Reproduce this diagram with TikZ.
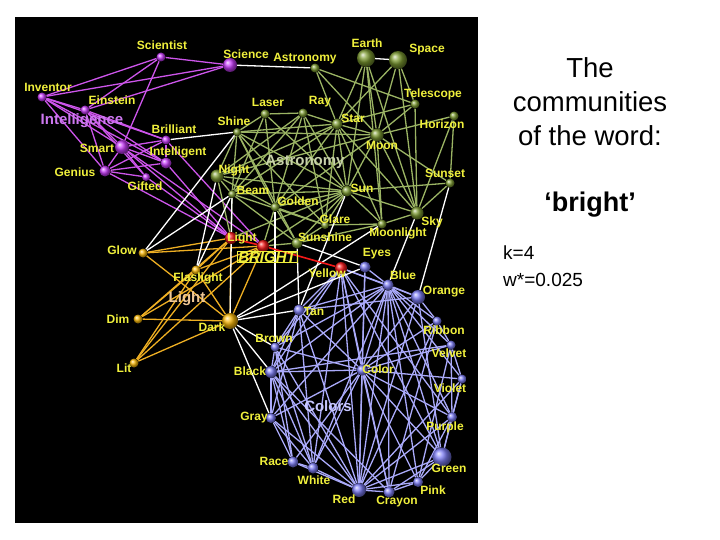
\documentclass[tikz,border=0pt]{standalone}
\usepackage{fontspec}
\setmainfont{Liberation Sans}
\pgfdeclarelayer{bg}\pgfdeclarelayer{edges}
\pgfsetlayers{bg,edges,main}
\definecolor{labY}{RGB}{240,240,60}
\definecolor{cPE}{RGB}{205,85,235}
\definecolor{cPN}{RGB}{200,60,250}
\definecolor{cGE}{RGB}{155,180,100}
\definecolor{cGN}{RGB}{125,155,50}
\definecolor{cOE}{RGB}{238,175,35}
\definecolor{cON}{RGB}{250,185,10}
\definecolor{cBE}{RGB}{170,170,250}
\definecolor{cBN}{RGB}{125,125,245}
\definecolor{cRN}{RGB}{245,25,25}
\newcommand\mkvtx[6]{\node[#1=#2] (#3) at (#4) {}; \node[lab] (l#3) at (#5) {#6};}
\begin{document}
\begin{tikzpicture}[x=1pt,y=-1pt,
  lab/.style={text=labY,font=\bfseries\fontsize{12}{12}\selectfont,inner sep=0pt},
  comm/.style={font=\bfseries\fontsize{15}{15}\selectfont,inner sep=0pt},
  sph/.style={circle,inner sep=0pt,minimum size=#1,shading=ball},
  pN/.style={sph=#1,ball color=cPN},
  gN/.style={sph=#1,ball color=cGN},
  oN/.style={sph=#1,ball color=cON},
  bN/.style={sph=#1,ball color=cBN},
  rN/.style={sph=#1,ball color=cRN},
  pE/.style={draw=cPE,line width=1.3pt},
  gE/.style={draw=cGE,line width=1.3pt},
  oE/.style={draw=cOE,line width=1.3pt},
  bE/.style={draw=cBE,line width=1.3pt},
  wE/.style={draw=white,line width=1.3pt},
  rE/.style={draw=cRN,line width=1.6pt}]
\useasboundingbox (0,0) rectangle (720,540);
\begin{pgfonlayer}{bg}
\fill[white] (0,0) rectangle (720,540);
\fill[black] (15,17) rectangle (478,523);
\end{pgfonlayer}
% purple
\mkvtx{pN}{9}{sci}{161,57}{162,45}{Scientist}
\mkvtx{pN}{14}{scn}{230,65}{246,54}{Science}
\mkvtx{pN}{9}{inv}{42,97}{48,87}{Inventor}
\mkvtx{pN}{9}{ein}{85,110}{112,100}{Einstein}
\mkvtx{pN}{9}{bri}{166,140}{174,129}{Brilliant}
\mkvtx{pN}{14}{sma}{122,147}{97,148}{Smart}
\mkvtx{pN}{11}{int}{166,163}{178,152}{Intelligent}
\mkvtx{pN}{11}{gen}{105,171}{75,172}{Genius}
\mkvtx{pN}{8}{gif}{146,177}{145,186}{Gifted}
% green
\mkvtx{gN}{18}{ear}{366,58}{367,43}{Earth}
\mkvtx{gN}{18}{spa}{398,60}{427,50}{Space}
\mkvtx{gN}{9}{ast}{315,68}{305,59}{Astronomy}
\mkvtx{gN}{9}{tel}{415,104}{433,94}{Telescope}
\mkvtx{gN}{9}{las}{265,114}{268,102}{Laser}
\mkvtx{gN}{9}{ray}{303,113}{320,102}{Ray}
\mkvtx{gN}{8}{shi}{237,132}{234,121}{Shine}
\mkvtx{gN}{11}{sta}{337,124}{353,118}{Star}
\mkvtx{gN}{9}{hor}{454,116}{442,124}{Horizon}
\mkvtx{gN}{13}{moo}{377,135}{382,145}{Moon}
\mkvtx{gN}{13}{nig}{217,176}{234,170}{Night}
\mkvtx{gN}{8}{bea}{232,194}{253,190}{Beam}
\mkvtx{gN}{9}{gol}{275,207}{298,201}{Golden}
\mkvtx{gN}{11}{sun}{347,191}{362,188}{Sun}
\mkvtx{gN}{9}{sus}{450,183}{445,173}{Sunset}
\mkvtx{gN}{8}{gla}{325,225}{335,219}{Glare}
\mkvtx{gN}{11}{ssh}{297,243}{325,237}{Sunshine}
\mkvtx{gN}{9}{mol}{382,224}{398,233}{Moonlight}
\mkvtx{gN}{13}{sky}{417,213}{432,222}{Sky}
% red
\node[rN=12] (lig) at (231,238) {};
\node[lab] (llig) at (242,238) {Light};
\node[rN=12] (brt) at (263,246) {};
\node[draw=labY,line width=0.8pt,inner xsep=1pt,inner ysep=0.5pt,minimum width=60pt,text=labY,font=\bfseries\itshape\fontsize{15}{15}\selectfont] (lbrt) at (267,257) {BRIGHT};
\mkvtx{rN}{12}{yel}{341,268}{327,273}{Yellow}
% orange
\mkvtx{oN}{9}{glo}{143,253}{122,250}{Glow}
\mkvtx{oN}{9}{fla}{196,270}{198,278}{Flaslight}
\mkvtx{oN}{9}{dim}{138,319}{118,319}{Dim}
\mkvtx{oN}{16}{dar}{230,321}{212,327}{Dark}
\mkvtx{oN}{9}{lit}{134,363}{124,368}{Lit}
% blue
\mkvtx{bN}{11}{eye}{365,267}{377,254}{Eyes}
\mkvtx{bN}{11}{blu}{388,285}{403,275}{Blue}
\mkvtx{bN}{14}{ora}{418,297}{444,292}{Orange}
\mkvtx{bN}{11}{tan}{299,310}{314,311}{Tan}
\mkvtx{bN}{9}{rib}{437,321}{444,330}{Ribbon}
\mkvtx{bN}{9}{bro}{275,347}{274,338}{Brown}
\mkvtx{bN}{9}{vel}{451,345}{449,353}{Velvet}
\mkvtx{bN}{12}{bla}{271,372}{250,371}{Black}
\mkvtx{bN}{11}{col}{362,370}{378,369}{Color}
\mkvtx{bN}{9}{vio}{462,379}{450,388}{Violet}
\mkvtx{bN}{10}{gra}{271,418}{254,418}{Gray}
\mkvtx{bN}{10}{pur}{452,417}{445,427}{Purple}
\mkvtx{bN}{11}{rac}{293,462}{274,461}{Race}
\mkvtx{bN}{11}{whi}{313,468}{314,480}{White}
\mkvtx{bN}{19}{gre}{442,457}{449,468}{Green}
\mkvtx{bN}{10}{pin}{418,482}{433,490}{Pink}
\mkvtx{bN}{14}{red}{359,490}{344,499}{Red}
\mkvtx{bN}{11}{cra}{389,492}{397,502}{Crayon}
% community labels
\node[comm,text={rgb,255:red,205;green,120;blue,240}] (cint) at (82,121) {Intelligence};
\node[comm,text={rgb,255:red,200;green,210;blue,170}] (cast) at (305,162) {Astronomy};
\node[comm,text={rgb,255:red,240;green,200;blue,150}] (clig) at (187,299) {Light};
\node[comm,text={rgb,255:red,200;green,200;blue,255}] (ccol) at (328,406) {Colors};
% right text
\node[align=center,font=\fontsize{27.5}{34}\selectfont] (title) at (590,102) {The\\communities\\of the word:};
\node[font=\bfseries\fontsize{27}{27}\selectfont] (word) at (590,205) {‘bright’};
\node[anchor=west,align=left,font=\fontsize{19}{27}\selectfont,inner sep=0pt] (params) at (503,266) {k=4\\w*=0.025};
\begin{pgfonlayer}{edges}
\foreach \a/\b in {sci/scn,sci/inv,sci/ein,sci/sma,inv/scn,ein/scn,inv/ein,inv/sma,inv/gen,inv/bri,inv/int,ein/bri,ein/gen,ein/int,ein/gif,ein/sma,sma/bri,sma/int,sma/gen,sma/gif,gen/bri,gen/int,gen/gif,int/bri,sma/lig,int/lig,gen/lig,gif/lig,bri/brt,sma/brt}
  \draw[pE] (\a) -- (\b);
\foreach \a/\b in {ast/sta,ast/tel,ast/moo,ear/sta,ear/moo,ear/sun,ear/sky,ear/mol,spa/sta,spa/moo,spa/tel,spa/sky,tel/sta,tel/moo,tel/sky,hor/sus,hor/sky,hor/moo,las/ray,las/shi,las/bea,las/sun,las/gol,ray/sta,ray/nig,ray/gol,ray/sun,ray/gla,ray/bea,shi/sta,shi/moo,shi/sun,shi/nig,shi/bea,shi/gol,shi/ssh,shi/gla,sta/moo,sta/sun,sta/nig,sta/gol,sta/gla,sta/mol,sta/sky,sta/bea,moo/sun,moo/sus,moo/mol,moo/sky,moo/nig,moo/gol,nig/bea,nig/sun,nig/gol,nig/lig,bea/sun,bea/gla,bea/lig,bea/ssh,gol/sun,gol/ssh,gol/gla,gol/brt,sun/gla,sun/ssh,sun/mol,sun/sky,sun/sus,sun/brt,sun/lig,sus/sky,sky/mol,gla/ssh,ssh/brt,mol/ssh,gla/mol}
  \draw[gE] (\a) -- (\b);
\foreach \a/\b in {glo/lig,glo/brt,glo/dar,fla/lig,fla/brt,fla/dar,fla/dim,fla/lit,dim/dar,dim/lig,dim/brt,lit/dar,lit/lig,lit/brt,dar/lig,dar/brt}
  \draw[oE] (\a) -- (\b);
\foreach \a/\b in {yel/blu,yel/ora,yel/col,yel/red,yel/whi,yel/gre,yel/pur,yel/bro,yel/tan,yel/cra,yel/bla,eye/blu,eye/col,eye/red,blu/ora,blu/col,blu/red,blu/gre,blu/pin,blu/cra,blu/pur,blu/vio,blu/vel,blu/bla,blu/bro,blu/gra,blu/rib,blu/tan,blu/whi,ora/rib,ora/red,ora/gre,ora/tan,ora/col,tan/bro,tan/bla,tan/col,tan/red,tan/whi,tan/gra,bro/bla,bro/col,bro/red,bro/whi,bro/rac,bla/col,bla/gra,bla/rac,bla/whi,bla/red,bla/cra,bla/vel,col/red,col/cra,col/pin,col/gre,col/whi,col/rac,col/gra,col/pur,col/vio,col/vel,col/rib,rib/vel,rib/red,rib/cra,vel/vio,vel/pur,vel/pin,vio/pur,vio/red,vio/gre,pur/gre,pur/red,pur/pin,gre/pin,gre/red,gre/cra,pin/red,pin/cra,red/cra,red/whi,red/rac,red/gra,whi/rac,whi/gra,gra/rac}
  \draw[bE] (\a) -- (\b);
\foreach \a/\b in {scn/ast,ear/spa,bri/shi,shi/glo,bea/glo,nig/fla,bea/fla,bea/dar,gol/bro,ssh/eye,ssh/tan,mol/dar,sky/blu,sus/ora,sun/tan,dar/tan,dar/bro,dar/bla,dar/gra,dar/eye}
  \draw[wE] (\a) -- (\b);
\draw[rE] (lig) -- (brt);
\draw[rE] (brt) -- (yel);
\end{pgfonlayer}
\end{tikzpicture}
\end{document}
